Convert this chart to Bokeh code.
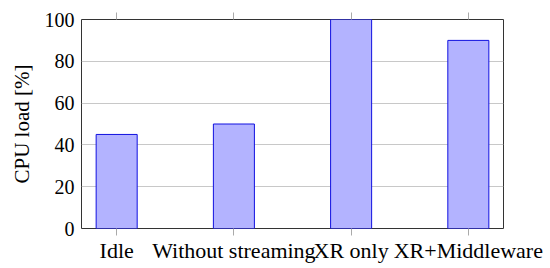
from bokeh.plotting import figure
from bokeh.models import Range1d, FixedTicker, LinearAxis, ColumnDataSource
from bokeh.embed import file_html
from bokeh.resources import INLINE

categories = ["Idle", "Without streaming", "XR only", "XR+Middleware"]
cpu_load = [45, 50, 100, 90]
y_ticks = [0, 20, 40, 60, 80, 100]

FONT = "Liberation Serif"

xs = list(range(len(categories)))
src = ColumnDataSource(dict(x=xs, top=cpu_load))

p = figure(output_backend="svg", toolbar_location=None,
           frame_width=422, frame_height=209,
           min_border_left=81, min_border_top=19, min_border_right=47, min_border_bottom=38,
           x_range=Range1d(-0.3, len(categories) - 0.7), y_range=Range1d(0, 100))

p.vbar(x="x", top="top", width=0.35, source=src,
       fill_color="#b3b3ff", line_color="#1010e0", line_width=1)

p.outline_line_color="#333333"
p.outline_line_width=1
p.background_fill_color="white"
p.border_fill_color="white"

p.xgrid.visible=False
p.ygrid.grid_line_color="#c8c8c8"
p.ygrid.grid_line_width=1
p.ygrid.ticker = FixedTicker(ticks=y_ticks)

xa = p.xaxis[0]
xa.ticker = FixedTicker(ticks=xs)
xa.major_label_overrides = {i: c for i, c in zip(xs, categories)}
xa.axis_line_color=None
xa.major_tick_in=0
xa.major_tick_out=7
xa.major_tick_line_color="#aaaaaa"
xa.minor_tick_line_color=None
xa.major_label_text_font=FONT
xa.major_label_text_font_size="22px"
xa.major_label_text_color="black"
xa.major_label_standoff=2

top = LinearAxis(ticker=FixedTicker(ticks=xs))
top.axis_line_color=None
top.major_tick_in=0
top.major_tick_out=7
top.major_tick_line_color="#aaaaaa"
top.minor_tick_line_color=None
top.major_label_overrides = {i: "" for i in xs}
top.major_label_text_font_size="1px"
top.major_label_standoff=0
p.add_layout(top, "above")

ya = p.yaxis[0]
ya.ticker = FixedTicker(ticks=y_ticks)
ya.axis_line_color=None
ya.major_tick_in=0
ya.major_tick_out=0
ya.minor_tick_line_color=None
ya.major_label_text_font=FONT
ya.major_label_text_font_size="20px"
ya.major_label_text_color="black"
ya.major_label_standoff=7
ya.axis_label="CPU load [%]"
ya.axis_label_text_font=FONT
ya.axis_label_text_font_size="21px"
ya.axis_label_text_font_style="normal"
ya.axis_label_text_color="black"
ya.axis_label_standoff=8

open("out.html", "w").write(file_html(p, INLINE))
